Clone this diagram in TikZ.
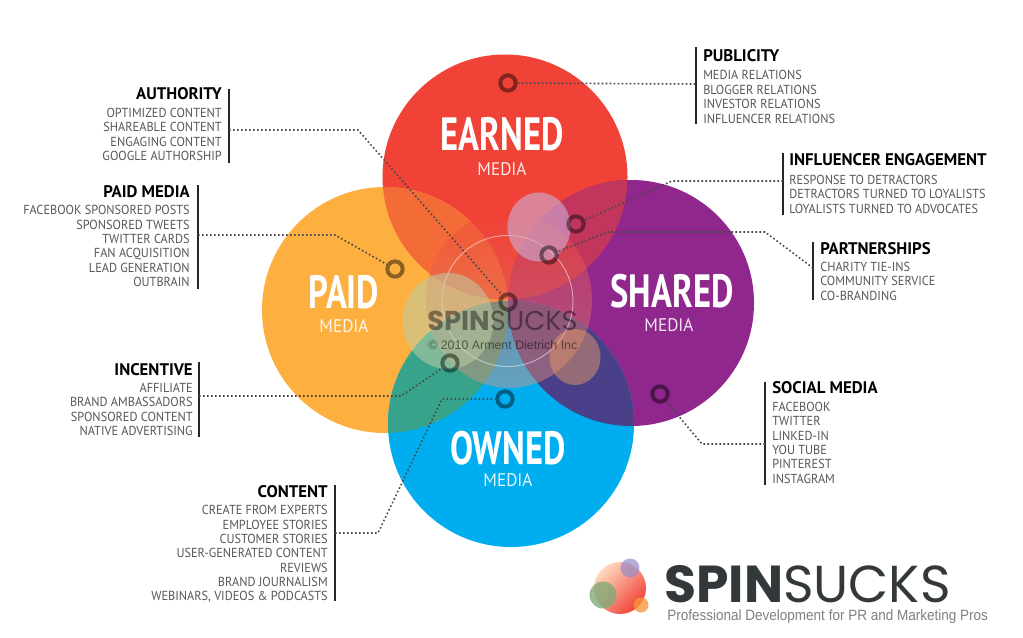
\documentclass[tikz,border=0pt]{standalone}
\usepackage{fontspec}
\usepackage{tikz}
\usetikzlibrary{positioning}
\newfontfamily\dinfont[FakeStretch=0.94]{PT Sans}
\newfontfamily\headfont[FakeStretch=1.0]{PT Sans}
\newfontfamily\bigfont[FakeStretch=0.74]{PT Sans}
\newfontfamily\tagfont[FakeStretch=0.905]{Liberation Sans}
\newfontfamily\logofont{Poppins}
\setmainfont{Liberation Sans}
\definecolor{earnedred}{HTML}{F04237}
\definecolor{paidorange}{HTML}{FDB03F}
\definecolor{sharedpurple}{HTML}{8F278C}
\definecolor{ownedblue}{HTML}{00AEEF}
\definecolor{slate}{HTML}{33383B}
\definecolor{centrepale}{HTML}{DC9682}

\begin{document}
\begin{tikzpicture}[
    x=0.75pt, y=-0.75pt,
    inner sep=0pt,
    topichead/.style={font=\headfont\bfseries\fontsize{12.6}{14}\selectfont, text=black},
    topicitem/.style={font=\dinfont\fontsize{9.8}{11}\selectfont, text=black!66},
    listbar/.style={line width=1.6pt, draw=black!85},
    leader/.style={line width=1.2pt, draw=black!72, dash pattern=on 1.2pt off 1.8pt},
    ringdot/.style={draw=black, draw opacity=.45, circle, line width=3pt, minimum size=11.5pt},
    bigword/.style={font=\bigfont\bfseries\fontsize{35}{35}\selectfont, text=white, anchor=base},
    mediaword/.style={font=\dinfont\fontsize{13.7}{14}\selectfont, text=white, text opacity=.88, anchor=base}
    ]
\useasboundingbox (0,0) rectangle (1023,638);
\fill[white] (0,0) rectangle (1023,638);

% the four circles
\coordinate (earnedc) at (505,177);
\coordinate (paidc) at (385,310);
\coordinate (sharedc) at (631,303);
\coordinate (ownedc) at (511,424);
\fill[earnedred] (earnedc) circle (122.5);
\fill[paidorange] (paidc) circle (123);
\fill[sharedpurple] (sharedc) circle (123);
\fill[ownedblue] (ownedc) circle (123);

% overlaps
\begin{scope}
\clip (earnedc) circle (122.5);
\fill[color={rgb,255:red,243;green,107;blue,55}] (paidc) circle (123);
\fill[color={rgb,255:red,194;green,54;blue,94}] (sharedc) circle (123);
\end{scope}
\begin{scope}
\clip (ownedc) circle (123);
\fill[color={rgb,255:red,55;green,163;blue,138}] (paidc) circle (123);
\fill[color={rgb,255:red,74;green,64;blue,138}] (sharedc) circle (123);
\end{scope}

% centre
\shade[top color=earnedred, bottom color=centrepale, opacity=.45] (509,300) ellipse (83 and 88);
\draw[white, opacity=.5, line width=.7pt] (507.5,301) circle (65.5);
\fill[color={rgb,255:red,205;green,175;blue,215}, opacity=.6] (539,227) ellipse (31.5 and 34.5);
\fill[color={rgb,255:red,190;green,205;blue,165}, opacity=.55] (448,321) ellipse (45.5 and 48);
\fill[color={rgb,255:red,240;green,160;blue,96}, opacity=.45] (575,357) ellipse (25.5 and 28);

% watermark
\node[anchor=base west, text=black, text opacity=.42, font=\logofont\fontsize{20.5}{21}\selectfont] (watermark) at (427,330) {\textbf{SPIN}SUCKS};
\node[anchor=base west, text=black, text opacity=.5, font=\fontsize{9.3}{11}\selectfont] (copyrightnote) at (428,349) {\textcopyright\ 2010 Arment Dietrich Inc};

% main labels
\node[bigword] (earned) at (502,150.5) {EARNED};
\node[mediaword] (earnedmedia) at (502,175.5) {MEDIA};
\node[bigword] (paid) at (344,308) {PAID};
\node[mediaword] (paidmedia) at (344,332) {MEDIA};
\node[bigword] (shared) at (672,307) {SHARED};
\node[mediaword] (sharedmedia) at (669,331) {MEDIA};
\node[bigword] (owned) at (508,464) {OWNED};
\node[mediaword] (ownedmedia) at (508,486) {MEDIA};

% rings
\node[ringdot] (r1) at (508,83) {};
\node[ringdot] (r2) at (508,302) {};
\node[ringdot] (r3) at (395,269) {};
\node[ringdot] (r4) at (576,224) {};
\node[ringdot] (r5) at (549,255) {};
\node[ringdot] (r6) at (660,394) {};
\node[ringdot] (r7) at (450,363) {};
\node[ringdot] (r8) at (505,399) {};

% bars
\coordinate (b1) at (696,84);
\coordinate (b2) at (229,130);
\coordinate (b3) at (198,235);
\coordinate (b4) at (783,181);
\coordinate (b5) at (813,268);
\coordinate (b6) at (765,444);
\coordinate (b7) at (199,396);
\coordinate (b8) at (335,533);
\draw[listbar] (696,47) -- (696,124);
\draw[listbar] (229,89) -- (229,163);
\draw[listbar] (198,185) -- (198,289);
\draw[listbar] (783,153) -- (783,215);
\draw[listbar] (813,242) -- (813,300);
\draw[listbar] (765,382) -- (765,485);
\draw[listbar] (199,362) -- (199,437);
\draw[listbar] (335,485) -- (335,601);

% leaders
\draw[leader] (r1) -- (b1);
\draw[leader] (b2) -- (358,130) -- (r2);
\draw[leader] (b3) -- (335,235) -- (r3);
\draw[leader] (b4) -- (672,181) -- (r4);
\draw[leader] (b5) -- (765,232) -- (608,232) -- (r5);
\draw[leader] (b6) -- (702,444) -- (r6);
\draw[leader] (b7) -- (401,396) -- (r7);
\draw[leader] (b8) -- (378,533) -- (442,399) -- (r8);

% lists on the right
\node[topichead, anchor=base west] (publicity) at (703,62) {PUBLICITY};
\foreach \t [count=\i] in {MEDIA RELATIONS, BLOGGER RELATIONS, INVESTOR RELATIONS, INFLUENCER RELATIONS}
  \node[topicitem, anchor=base west] (publicity\i) at (703,65.6+14.35*\i) {\t};
\node[topichead, anchor=base west] (influencer) at (789,166) {INFLUENCER ENGAGEMENT};
\foreach \t [count=\i] in {RESPONSE TO DETRACTORS, DETRACTORS TURNED TO LOYALISTS, LOYALISTS TURNED TO ADVOCATES}
  \node[topicitem, anchor=base west] (influencer\i) at (789,170+14.35*\i) {\t};
\node[topichead, anchor=base west] (partnerships) at (820,254) {PARTNERSHIPS};
\foreach \t [count=\i] in {CHARITY TIE-INS, COMMUNITY SERVICE, CO-BRANDING}
  \node[topicitem, anchor=base west] (partnerships\i) at (820,257+14.35*\i) {\t};
\node[topichead, anchor=base west] (social) at (772,393) {SOCIAL MEDIA};
\foreach \t [count=\i] in {FACEBOOK, TWITTER, LINKED-IN, YOU TUBE, PINTEREST, INSTAGRAM}
  \node[topicitem, anchor=base west] (social\i) at (772,397+14.35*\i) {\t};

% lists on the left
\node[topichead, anchor=base east] (authority) at (222,99.5) {AUTHORITY};
\foreach \t [count=\i] in {OPTIMIZED CONTENT, SHAREABLE CONTENT, ENGAGING CONTENT, GOOGLE AUTHORSHIP}
  \node[topicitem, anchor=base east] (authority\i) at (222,103+14.35*\i) {\t};
\node[topichead, anchor=base east] (paidlist) at (190,197) {PAID MEDIA};
\foreach \t [count=\i] in {FACEBOOK SPONSORED POSTS, SPONSORED TWEETS, TWITTER CARDS, FAN ACQUISITION, LEAD GENERATION, OUTBRAIN}
  \node[topicitem, anchor=base east] (paidlist\i) at (190,200.5+14.35*\i) {\t};
\node[topichead, anchor=base east] (incentive) at (193,375) {INCENTIVE};
\foreach \t [count=\i] in {AFFILIATE, BRAND AMBASSADORS, SPONSORED CONTENT, NATIVE ADVERTISING}
  \node[topicitem, anchor=base east] (incentive\i) at (193,378+14.35*\i) {\t};
\node[topichead, anchor=base east] (content) at (328,497) {CONTENT};
\foreach \t [count=\i] in {CREATE FROM EXPERTS, EMPLOYEE STORIES, CUSTOMER STORIES, USER-GENERATED CONTENT, REVIEWS, BRAND JOURNALISM, {WEBINARS, VIDEOS \& PODCASTS}}
  \node[topicitem, anchor=base east] (content\i) at (328,500.5+14.35*\i) {\t};

% logo
\shade[left color=red!15!orange!25!white, right color=earnedred, shading angle=45] (620,588) circle (26);
\fill[color={rgb,255:red,150;green,140;blue,200}, opacity=.7] (630,568) circle (9.5);
\fill[color={rgb,255:red,130;green,170;blue,120}, opacity=.8] (603,595) circle (13.5);
\fill[color={rgb,255:red,245;green,150;blue,60}, opacity=.8] (641,605) circle (7.5);
\node[anchor=base west, text=slate, font=\logofont\fontsize{39}{39}\selectfont] (logotext) at (664,602) {\textbf{SPIN}SUCKS};
\node[anchor=base west, text=black!50, font=\tagfont\fontsize{11.2}{13}\selectfont] (tagline) at (667,620) {Professional Development for PR and Marketing Pros};
\end{tikzpicture}
\end{document}
